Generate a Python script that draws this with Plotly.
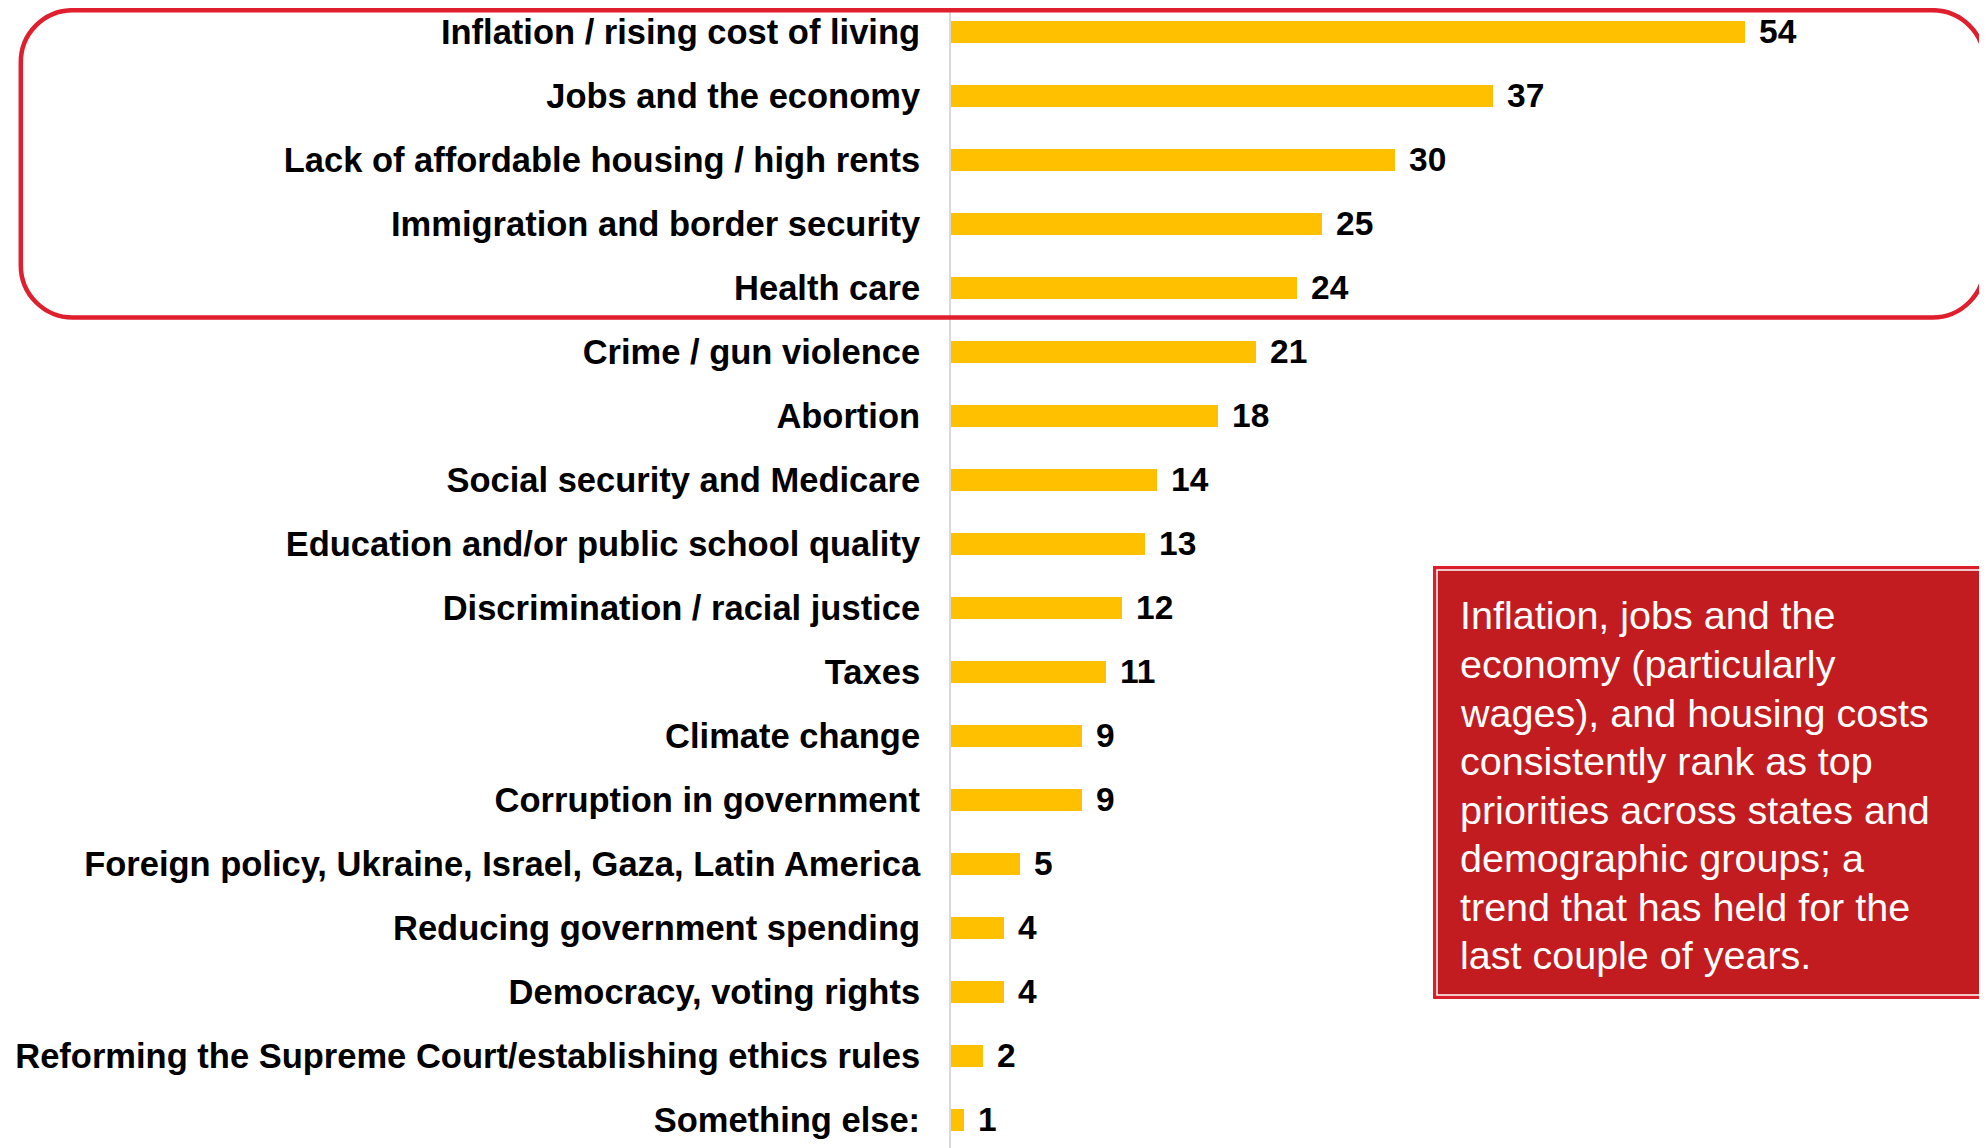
import plotly.graph_objects as go

categories = [
    "Inflation / rising cost of living",
    "Jobs and the economy",
    "Lack of affordable housing / high rents",
    "Immigration and border security",
    "Health care",
    "Crime / gun violence",
    "Abortion",
    "Social security and Medicare",
    "Education and/or public school quality",
    "Discrimination / racial justice",
    "Taxes",
    "Climate change",
    "Corruption in government",
    "Foreign policy, Ukraine, Israel, Gaza, Latin America",
    "Reducing government spending",
    "Democracy, voting rights",
    "Reforming the Supreme Court/establishing ethics rules",
    "Something else:",
]
# bar lengths (percent)
values = [54.4, 37.1, 30.4, 25.4, 23.7, 20.9, 18.3, 14.1, 13.3, 11.7,
          10.6, 9.0, 9.0, 4.7, 3.6, 3.6, 2.2, 0.9]
# labels printed next to the bars
value_labels = ["54", "37", "30", "25", "24", "21", "18", "14", "13", "12",
                "11", "9", "9", "5", "4", "4", "2", "1"]

callout_lines = [
    "Inflation, jobs and the",
    "economy (particularly",
    "wages), and housing costs",
    "consistently rank as top",
    "priorities across states and",
    "demographic groups; a",
    "trend that has held for the",
    "last couple of years.",
]

W, H = 1987, 1148
L = 943
PX_PER_UNIT = 14.6
plot_w = W - L
FONT = "Liberation Sans, Arial, sans-serif"

ypos = list(range(len(categories)))

fig = go.Figure()
fig.add_trace(go.Bar(
    x=values, y=ypos, orientation="h",
    marker=dict(color="#FFC000", line=dict(width=0)),
    width=0.344, hoverinfo="skip",
))

for v, lab, yy in zip(values, value_labels, ypos):
    fig.add_annotation(x=v, y=yy, xref="x", yref="y", text=f"<b>{lab}</b>",
                       showarrow=False, xanchor="left", yanchor="middle",
                       xshift=12, font=dict(family=FONT, size=33.5, color="#000000"))

def px_x(px):
    return (px - L) / plot_w

def px_y(py):
    return 1 - py / H

def P(x, y):
    return f"{px_x(x)} {px_y(y)}"

# rounded highlight rectangle around top five (circular corners via cubic curves)
x0, x1, y0, y1, r = 12.8, 1976.5, 2.2, 309.5, 52
k = 0.5523 * r
path = (
    f"M {P(x0 + r, y0)} L {P(x1 - r, y0)} "
    f"C {P(x1 - r + k, y0)} {P(x1, y0 + r - k)} {P(x1, y0 + r)} "
    f"L {P(x1, y1 - r)} "
    f"C {P(x1, y1 - r + k)} {P(x1 - r + k, y1)} {P(x1 - r, y1)} "
    f"L {P(x0 + r, y1)} "
    f"C {P(x0 + r - k, y1)} {P(x0, y1 - r + k)} {P(x0, y1 - r)} "
    f"L {P(x0, y0 + r)} "
    f"C {P(x0, y0 + r - k)} {P(x0 + r - k, y0)} {P(x0 + r, y0)} Z"
)
fig.add_shape(type="path", path=path, xref="paper", yref="paper",
              line=dict(color="#DF1F2D", width=4.5), fillcolor="rgba(0,0,0,0)",
              layer="above")

# callout box (double border)
fig.add_shape(type="rect", xref="paper", yref="paper",
              x0=px_x(1425), x1=px_x(2000), y0=px_y(991), y1=px_y(558),
              fillcolor="#DA1F2B", line=dict(width=0), layer="above")
fig.add_shape(type="rect", xref="paper", yref="paper",
              x0=px_x(1429), x1=px_x(2000), y0=px_y(987), y1=px_y(562),
              fillcolor="#C21C21", line=dict(color="#FFFFFF", width=1.5), layer="above")
for i, line in enumerate(callout_lines):
    fig.add_annotation(xref="paper", yref="paper", x=px_x(1450),
                       y=px_y(607.4 + 48.57 * i),
                       xanchor="left", yanchor="middle", align="left", showarrow=False,
                       text=line, font=dict(family=FONT, size=39.5, color="#FFFFFF"))

fig.update_layout(
    width=W, height=H,
    margin=dict(l=L, r=0, t=0, b=0, pad=0),
    paper_bgcolor="white", plot_bgcolor="white",
    showlegend=False,
    bargap=0,
    xaxis=dict(range=[0, plot_w / PX_PER_UNIT], visible=False, fixedrange=True),
    yaxis=dict(
        range=[17.567, -0.370],
        tickvals=ypos,
        ticktext=[f"<b>{c}</b>" for c in categories],
        tickfont=dict(family=FONT, size=34.5, color="#000000"),
        showline=True, linecolor="#D9D9D9", linewidth=2,
        showgrid=False, zeroline=False, ticks="",
        ticklabelstandoff=22,
        fixedrange=True,
    ),
)

fig.write_html("out.html")
